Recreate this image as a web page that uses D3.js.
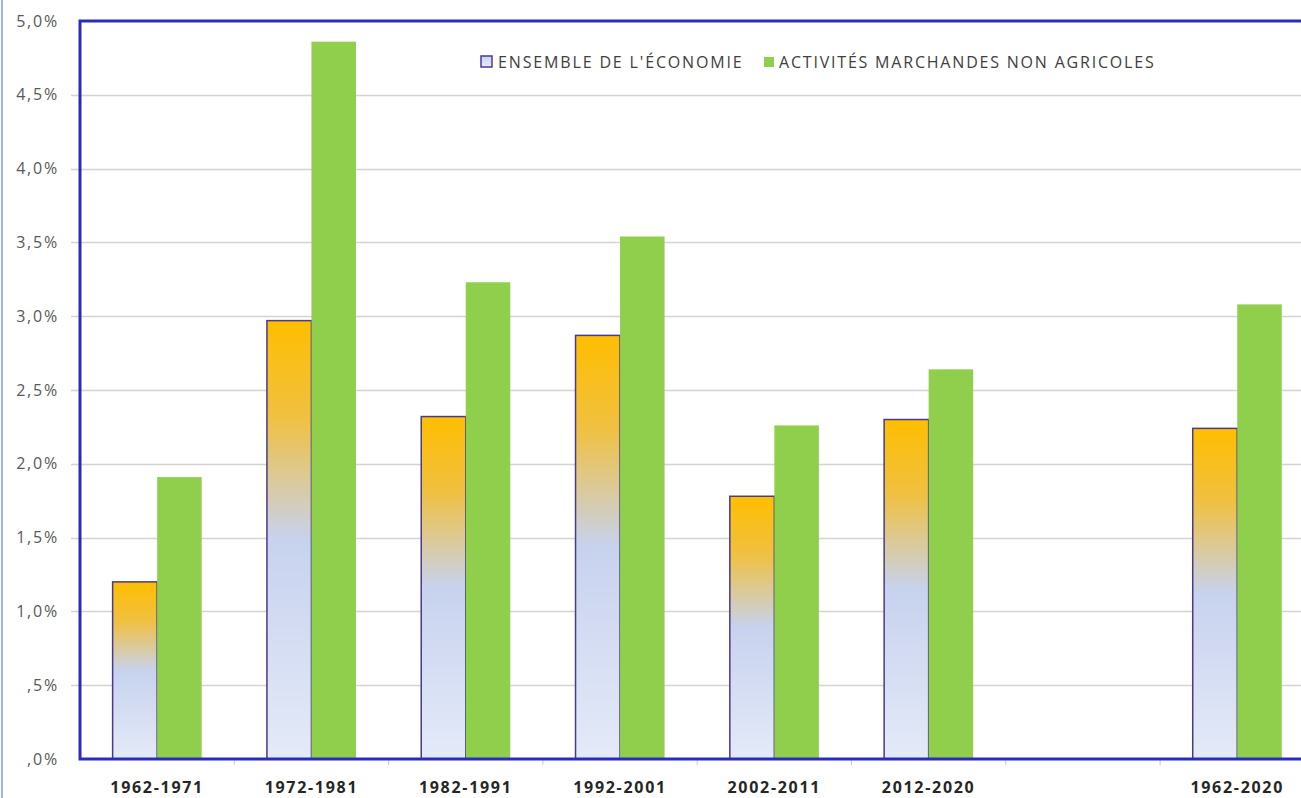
<!DOCTYPE html>
<html>
<head>
<meta charset="utf-8">
<script src="https://cdn.jsdelivr.net/npm/d3@7"></script>
<style>
  body { margin: 0; background: #fff; overflow: hidden; }
  svg { display: block; font-family: "Open Sans", Lato, sans-serif; }
</style>
</head>
<body>
<div id="chart"></div>
<script>
// data
const periods = ["1962-1971", "1972-1981", "1982-1991", "1992-2001", "2002-2011", "2012-2020", "", "1962-2020"];
const ensemble = [1.20, 2.97, 2.32, 2.87, 1.78, 2.30, null, 2.24];
const marchandes = [1.91, 4.86, 3.23, 3.54, 2.26, 2.64, null, 3.08];
const seriesNames = ["ENSEMBLE DE L'ÉCONOMIE", "ACTIVITÉS MARCHANDES NON AGRICOLES"];
const yTicks = [0, 0.5, 1, 1.5, 2, 2.5, 3, 3.5, 4, 4.5, 5];

const W = 1301, H = 798;
const margin = { top: 21, left: 80, bottom: 39 };
const step = 154.3;

const svg = d3.select("#chart").append("svg")
    .attr("width", W)
    .attr("height", H);

const defs = svg.append("defs");
const grad = defs.append("linearGradient")
    .attr("id", "ens-grad")
    .attr("x1", "0").attr("y1", "0")
    .attr("x2", "0").attr("y2", "1");
grad.append("stop").attr("offset", "0%").attr("stop-color", "#ffbe00");
grad.append("stop").attr("offset", "22%").attr("stop-color", "#f0c040");
grad.append("stop").attr("offset", "50%").attr("stop-color", "#c7d2ee");
grad.append("stop").attr("offset", "100%").attr("stop-color", "#e4eaf8");

const legGrad = defs.append("linearGradient")
    .attr("id", "leg-grad")
    .attr("x1", "0").attr("y1", "0")
    .attr("x2", "0").attr("y2", "1");
legGrad.append("stop").attr("offset", "0%").attr("stop-color", "#c9d4f2");
legGrad.append("stop").attr("offset", "100%").attr("stop-color", "#e6ebf8");

const y = d3.scaleLinear()
    .domain([0, 5])
    .range([H - margin.bottom, margin.top]);

const x = d3.scaleBand()
    .domain(periods.map((d, i) => i))
    .range([margin.left, margin.left + step * periods.length])
    .padding(0);

const xInner = d3.scaleBand()
    .domain([0, 1])
    .range([0, x.bandwidth()])
    .paddingInner(0)
    .paddingOuter(0.733);

const fmt = v => (v === 0 ? "" : d3.format(".1f")(v).replace(/^0/, "")).replace(".", ",") + "%";

// left light frame line
svg.append("line")
    .attr("x1", 2).attr("x2", 2)
    .attr("y1", 0).attr("y2", H)
    .attr("stroke", "#9cbbe0")
    .attr("stroke-width", 2);

// gridlines
svg.append("g")
    .selectAll("line")
    .data(yTicks.filter(d => d > 0 && d < 5))
    .join("line")
    .attr("x1", margin.left - 9)
    .attr("x2", W)
    .attr("y1", d => Math.round(y(d)) + 0.5)
    .attr("y2", d => Math.round(y(d)) + 0.5)
    .attr("stroke", "#d4d4d4")
    .attr("stroke-width", 1.5);

// y tick labels
svg.append("g")
    .selectAll("text")
    .data(yTicks)
    .join("text")
    .attr("x", 59)
    .attr("y", d => y(d))
    .attr("dy", "0.35em")
    .attr("text-anchor", "end")
    .attr("font-size", 16)
    .attr("letter-spacing", "1.8px")
    .attr("fill", "#595959")
    .text(d => d === 0 ? ",0%" : fmt(d));

// x axis category ticks
svg.append("g")
    .selectAll("line")
    .data(d3.range(1, periods.length))
    .join("line")
    .attr("x1", i => x(i)).attr("x2", i => x(i))
    .attr("y1", y(0)).attr("y2", y(0) + 6)
    .attr("stroke", "#c8c8d8")
    .attr("stroke-width", 1);

// bars
const groups = svg.append("g")
    .selectAll("g")
    .data(periods.map((p, i) => ({ p, i, vals: [ensemble[i], marchandes[i]] })))
    .join("g")
    .attr("transform", d => `translate(${x(d.i)},0)`);

groups.selectAll("rect")
    .data(d => d.vals.map((v, k) => ({ v, k })).filter(e => e.v !== null))
    .join("rect")
    .attr("x", e => xInner(e.k))
    .attr("y", e => y(e.v))
    .attr("width", xInner.bandwidth())
    .attr("height", e => y(0) - y(e.v))
    .attr("fill", e => e.k === 0 ? "url(#ens-grad)" : "#8fcf4c")
    .attr("stroke", e => e.k === 0 ? "#4a3a8a" : "none")
    .attr("stroke-width", 1.5);

// x labels
svg.append("g")
    .selectAll("text")
    .data(periods.map((p, i) => ({ p, i })))
    .join("text")
    .attr("x", d => x(d.i) + x.bandwidth() / 2)
    .attr("y", 793)
    .attr("text-anchor", "middle")
    .attr("font-size", 16)
    .attr("font-weight", "bold")
    .attr("letter-spacing", "1.7px")
    .attr("fill", "#262626")
    .text(d => d.p);

// plot frame (left, top, bottom) – right side clipped off
svg.append("path")
    .attr("d", `M${W},${margin.top} H${margin.left} V${y(0)} H${W}`)
    .attr("fill", "none")
    .attr("stroke", "#2b2bc0")
    .attr("stroke-width", 3);

// legend
const legend = svg.append("g").attr("transform", "translate(480,62)");
legend.append("rect")
    .attr("x", 1).attr("y", -6)
    .attr("width", 11).attr("height", 11)
    .attr("fill", "url(#leg-grad)")
    .attr("stroke", "#4a3a9a")
    .attr("stroke-width", 1.5);
legend.append("text")
    .attr("x", 18).attr("y", 0)
    .attr("dy", "0.35em")
    .attr("font-size", 16)
    .attr("letter-spacing", "1.85px")
    .attr("fill", "#404040")
    .text(seriesNames[0]);
legend.append("rect")
    .attr("x", 284).attr("y", -5)
    .attr("width", 10).attr("height", 10)
    .attr("fill", "#8fcf4c");
legend.append("text")
    .attr("x", 299).attr("y", 0)
    .attr("dy", "0.35em")
    .attr("font-size", 16)
    .attr("letter-spacing", "1.8px")
    .attr("fill", "#404040")
    .text(seriesNames[1]);
</script>
</body>
</html>
